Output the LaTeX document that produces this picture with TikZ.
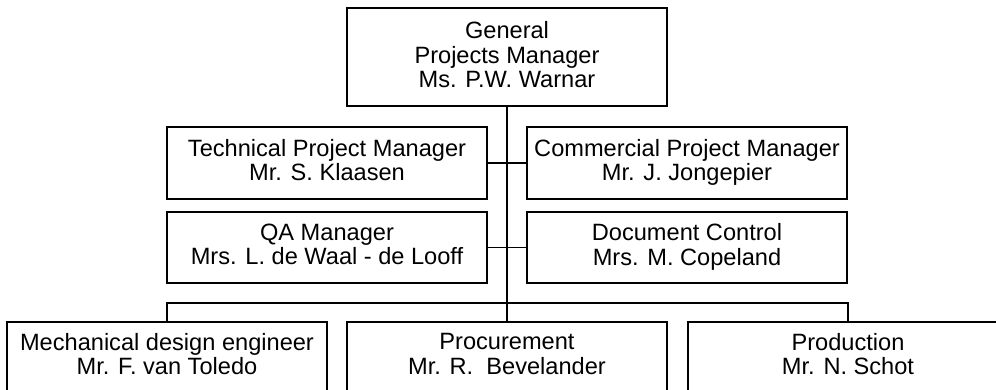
\documentclass[tikz,border=0pt]{standalone}
\usepackage{fontspec}
\setmainfont{Liberation Sans}
\newcommand{\lowpad}{\rule[-6.5pt]{0pt}{0pt}}
\newcommand{\toppad}{\rule[-4.5pt]{0pt}{0pt}}
\begin{document}
\begin{tikzpicture}[x=1pt,y=-1pt,
  box/.style={draw,line width=1.3pt,minimum width=320pt,inner sep=0pt,align=center,
    font=\fontsize{23.6}{24.5}\selectfont},
  conn/.style={line width=1.3pt}]
\path[use as bounding box] (0,0) rectangle (996,390);
\clip (0,0) rectangle (996,390);
\node[box,minimum height=98pt] (gpm) at (507,57) {General\\Projects Manager\\Ms. P.W. Warnar\toppad};
\node[box,minimum height=72pt] (tpm) at (327,163) {Technical Project Manager\\Mr. S. Klaasen\lowpad};
\node[box,minimum height=72pt] (cpm) at (687,163) {Commercial Project Manager\\Mr. J. Jongepier\lowpad};
\node[box,minimum height=71pt] (qa) at (327,247.5) {QA Manager\\Mrs. L. de Waal - de Looff\lowpad};
\node[box,minimum height=71pt] (dc) at (687,247.5) {Document Control\\Mrs. M. Copeland\lowpad};
\node[box,minimum height=70pt] (mech) at (167,357) {Mechanical design engineer\\Mr. F. van Toledo\lowpad};
\node[box,minimum height=70pt] (proc) at (507,357) {Procurement\\Mr. R.\ \ Bevelander\lowpad};
\node[box,minimum height=70pt] (prod) at (848,357) {Production\\Mr. N. Schot\lowpad};
\coordinate (bus) at (0,303);
\draw[conn] (gpm.south) -- (proc.north);
\draw[conn] (tpm.east) -- (cpm.west);
\draw[conn] (qa.east) -- (dc.west);
\draw[conn] (mech.north) |- (bus -| prod.north) -- (prod.north);
\end{tikzpicture}
\end{document}
